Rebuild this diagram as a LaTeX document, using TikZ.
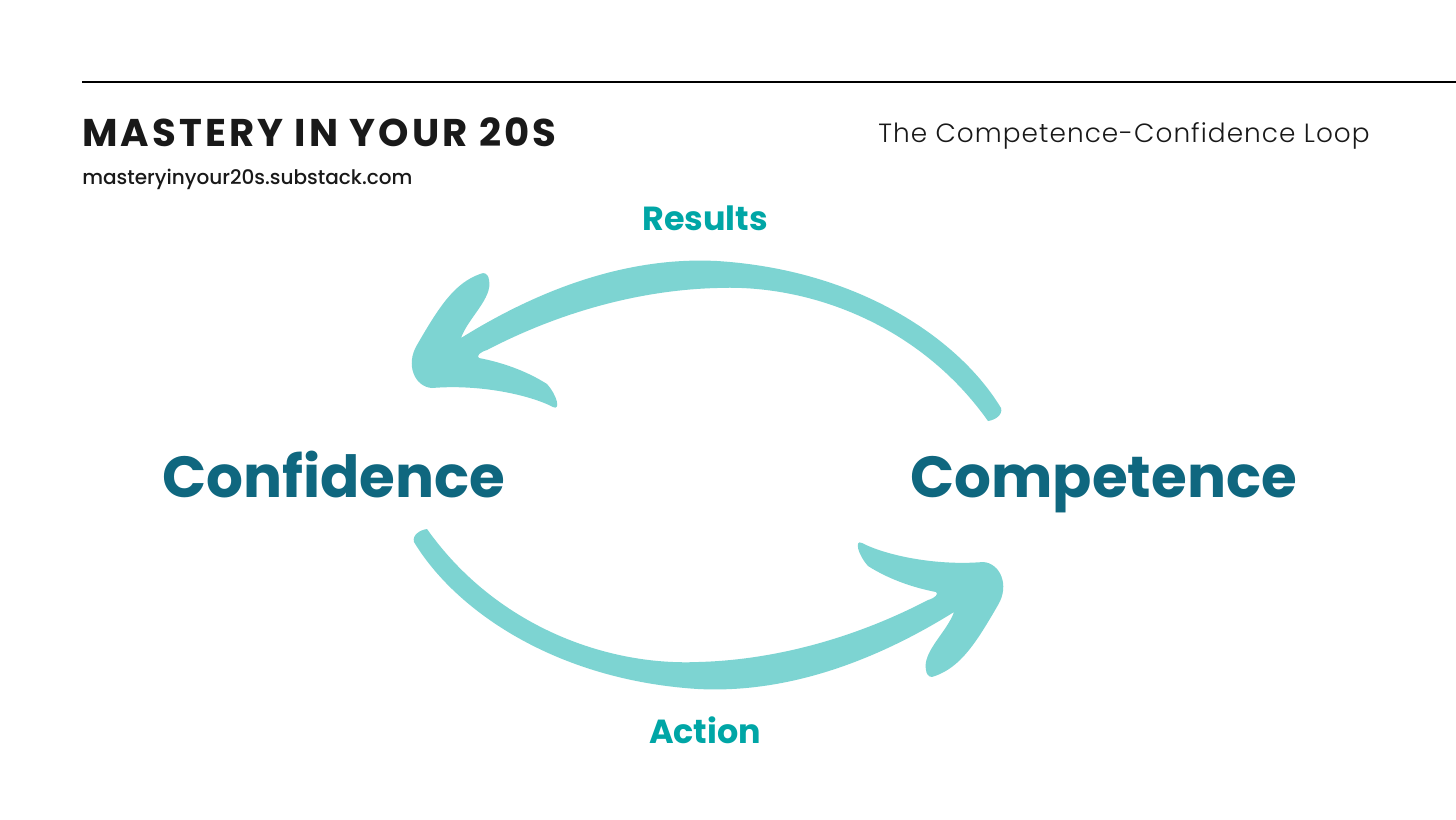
\documentclass[tikz,border=0pt]{standalone}
\usepackage{fontspec}
\setmainfont{Poppins}
\newfontfamily\spacedfont[LetterSpace=8]{Poppins}
\newfontfamily\lightfont[LetterSpace=4]{Poppins Light}
\newfontfamily\mediumfont{Poppins Medium}
\definecolor{brushteal}{HTML}{7DD4D2}
\definecolor{labelteal}{HTML}{00A6A6}
\definecolor{wordteal}{HTML}{0F677F}
\tikzset{
  brusharrow/.pic={
    \fill[brushteal] (1001,408) .. controls (960,340) and (860,270) .. (717,261)
      .. controls (620,256) and (530,295) .. (461,338)
      .. controls (468,318) and (493,298) .. (489,280)
      .. controls (488,273) and (484,272) .. (480,274)
      .. controls (455,283) and (440,305) .. (417,345)
      .. controls (405,365) and (415,387) .. (432,388)
      .. controls (480,384) and (530,395) .. (553,407)
      .. controls (561,411) and (557,395) .. (547,384)
      .. controls (525,370) and (500,362) .. (479,358)
      .. controls (476,356) and (480,352) .. (487,350)
      .. controls (560,312) and (640,290) .. (717,288)
      .. controls (810,284) and (920,325) .. (988,421)
      .. controls (995,420) and (1003,415) .. cycle;
  }
}
\begin{document}
\begin{tikzpicture}[x=0.02cm,y=-0.02cm,
  bigword/.style={text=wordteal, font=\fontsize{33}{39}\selectfont\bfseries, inner sep=0pt, anchor=base west},
  looplabel/.style={text=labelteal, font=\fontsize{19}{23}\selectfont\bfseries, inner sep=0pt, anchor=base}]
\useasboundingbox[fill=white] (0,0) rectangle (1456,819);
% header
\draw[line width=0.04cm] (82,82) -- (1456,82);
\node[inner sep=0pt, anchor=base west, font=\spacedfont\fontsize{22}{26}\selectfont\bfseries, text=black!90] (title) at (82,146) {MASTERY IN YOUR 20S};
\node[inner sep=0pt, anchor=base west, font=\mediumfont\fontsize{11.4}{14}\selectfont, text=black!90] (url) at (82,184) {masteryinyour20s.substack.com};
\node[inner sep=0pt, anchor=base west, font=\lightfont\fontsize{15}{18}\selectfont, text=black!90] (subtitle) at (878,142) {The Competence-Confidence Loop};
% the loop: one brush arrow, and the same turned half round
\pic at (0,0) {brusharrow};
\pic[rotate=180] at (1415,950) {brusharrow};
\node[bigword] (confidence) at (162,497) {Confidence};
\node[bigword] (competence) at (910,497) {Competence};
\node[looplabel] (results) at (705,230) {Results};
\node[looplabel] (action) at (705,743) {Action};
\end{tikzpicture}
\end{document}
